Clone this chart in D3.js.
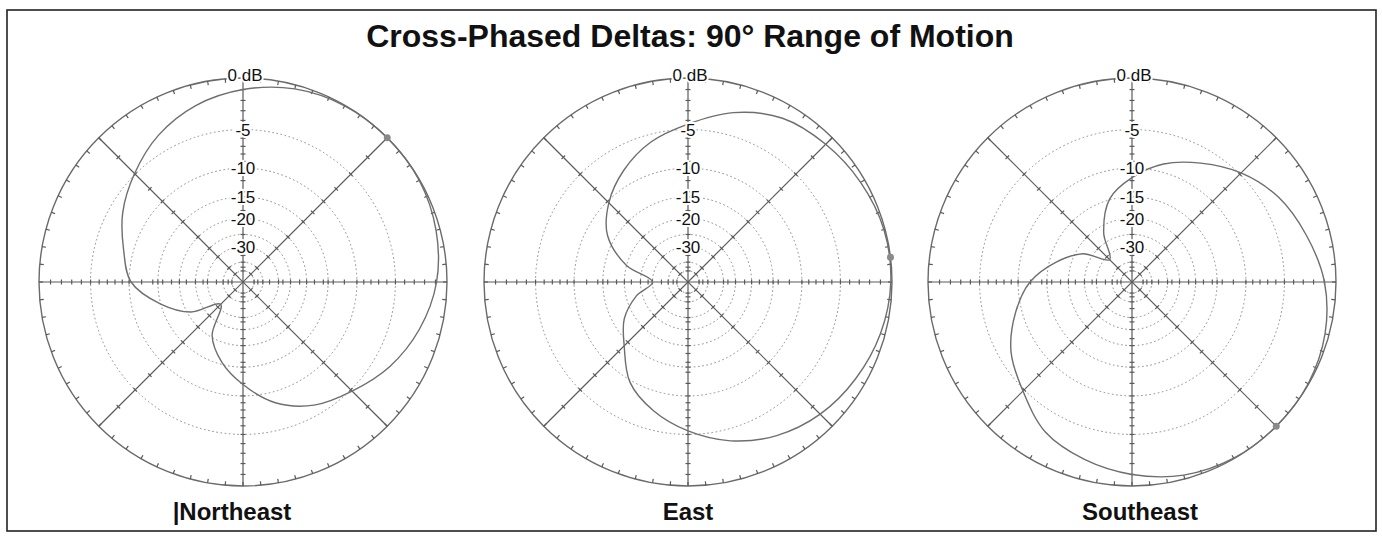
<!DOCTYPE html>
<html>
  <head>
    <meta charset="utf-8">
    <style>
    body {margin:0; background:white;}
    * { font-family: "Liberation Sans", Arial, Helvetica, sans-serif; }
    svg { background: white; display:block; }
    .ring { fill: none; stroke: #8a8a8a; stroke-width: 1; stroke-dasharray: 1.6 2.6; }
    .outer { fill: none; stroke: #6a6a6a; stroke-width: 1.4; }
    .spoke, .tick { stroke: #5a5a5a; stroke-width: 1.2; }
    .pattern { fill: none; stroke: #6e6e6e; stroke-width: 1.4; }
    </style>
  </head>
  <body>
    <div id="chart"></div>
    <script src="https://d3js.org/d3.v7.min.js"></script>
  </body>
</html>

<script>

  // data: compass azimuth in degrees, response in dB

  var azimuths = [0, 15, 30, 45, 60, 75, 90, 105, 120, 135, 150, 165,
                  180, 195, 210, 225, 240, 255, 270, 285, 300, 315, 330, 345];

  var northeastDb = [-1.0, -0.35, -0.05, 0, -0.05, -0.35, -0.9, -1.9, -3.2, -4.8, -6.2, -8.4,
                     -11.8, -15.5, -20.5, -32, -21, -15.0, -10.3, -8.6, -6.6, -4.9, -3.2, -1.9];

  var eastDb = [-4.4, -2.6, -1.3, -0.8, -0.4, -0.1, -0.1, -0.4, -0.9, -1.5, -2.4, -3.7,
                -5.4, -7.3, -9.7, -14, -17.5, -23, -30, -20, -13.5, -10.3, -7.9, -5.9];

  var southeastDb = [-11.5, -8.8, -6.8, -4.8, -3.2, -2.1, -1.0, -0.35, -0.05, 0, -0.05, -0.35,
                     -1.0, -1.8, -2.8, -4.8, -6.5, -9.0, -11.9, -16.5, -22, -32, -22, -14.8];

  var panelNames = ["|Northeast", "East", "Southeast"];
  var peakAz = [45, 83, 135];

  var ringDb = [0, -5, -10, -15, -20, -25, -30, -40, -50];
  var ringLabelDb = [0, -5, -10, -15, -20, -30];
  var ringLabels = ["0 dB", "-5", "-10", "-15", "-20", "-30"];
  // fine ticks on the vertical / horizontal axes, coarser ones on the diagonals
  var axisTickDb = [-1, -2, -3, -4, -5, -6, -7, -8, -9, -10, -12, -14, -15, -16, -18,
                    -20, -22, -25, -28, -30, -35, -40, -45, -50];
  var diagTickDb = [-2.5, -5, -7.5, -10, -12.5, -15, -20, -25, -30, -40, -50];

  var title = "Cross-Phased Deltas: 90\u00B0 Range of Motion";

  // properties

  var width = 1382, height = 536;
  var R = 204, cy = 282;
  var centers = [243, 688, 1132];
  var nameShift = [-11, 0, 8];

  var svg = d3.select("#chart")
    .append("svg")
    .attr("width", width)
    .attr("height", height);

  // ARRL log scale: radius follows power ratio ^ 0.253
  var rscale = d3.scalePow()
    .exponent(-5 * Math.log10(0.89))
    .domain([0, 1])
    .range([0, R]);

  function r(db) { return rscale(Math.pow(10, db / 10)); }
  function rad(az) { return az * Math.PI / 180; }
  function px(az, rr) { return rr * Math.sin(rad(az)); }
  function py(az, rr) { return -rr * Math.cos(rad(az)); }

  // frame
  svg.append("rect")
    .attr("x", 7).attr("y", 10)
    .attr("width", 1369).attr("height", 521)
    .attr("fill", "none")
    .attr("stroke", "#222")
    .attr("stroke-width", 1.6);

  svg.append("text")
    .attr("x", 690)
    .attr("y", 47)
    .attr("text-anchor", "middle")
    .style("font-size", "32px")
    .style("font-weight", "bold")
    .style("fill", "#111")
    .text(title);

  var patterns = [northeastDb, eastDb, southeastDb];

  var line = d3.lineRadial()
    .angle(function(d) { return rad(d.az); })
    .radius(function(d) { return r(d.db); })
    .curve(d3.curveCatmullRomClosed.alpha(0.5));

  patterns.forEach(function(dbs, i) {

    var g = svg.append("g")
      .attr("transform", "translate(" + centers[i] + "," + cy + ")");

    // dotted rings
    g.selectAll(".ring")
      .data(ringDb.filter(function(d) { return d < 0; }))
      .enter().append("circle")
      .attr("class", "ring")
      .attr("r", function(d) { return r(d); });

    g.append("circle")
      .attr("class", "outer")
      .attr("r", R);

    // spokes
    g.selectAll(".spoke")
      .data([0, 45, 90, 135])
      .enter().append("line")
      .attr("class", "spoke")
      .attr("x1", function(d) { return px(d, R); })
      .attr("y1", function(d) { return py(d, R); })
      .attr("x2", function(d) { return px(d + 180, R); })
      .attr("y2", function(d) { return py(d + 180, R); });

    // ticks on spokes
    var spokeTicks = [];
    [0, 90, 180, 270].forEach(function(a) {
      axisTickDb.forEach(function(db) { spokeTicks.push({az: a, db: db}); });
    });
    [45, 135, 225, 315].forEach(function(a) {
      diagTickDb.forEach(function(db) { spokeTicks.push({az: a, db: db}); });
    });
    g.selectAll(".stick")
      .data(spokeTicks)
      .enter().append("line")
      .attr("class", "tick")
      .attr("stroke-width", 0.9)
      .attr("x1", function(d) { return px(d.az, r(d.db)) + px(d.az + 90, 2.5); })
      .attr("y1", function(d) { return py(d.az, r(d.db)) + py(d.az + 90, 2.5); })
      .attr("x2", function(d) { return px(d.az, r(d.db)) - px(d.az + 90, 2.5); })
      .attr("y2", function(d) { return py(d.az, r(d.db)) - py(d.az + 90, 2.5); });

    // ticks on outer circle
    g.selectAll(".otick")
      .data(d3.range(0, 360, 5))
      .enter().append("line")
      .attr("class", "tick")
      .attr("stroke-width", 0.9)
      .attr("x1", function(d) { return px(d, R); })
      .attr("y1", function(d) { return py(d, R); })
      .attr("x2", function(d) { return px(d, R - 4); })
      .attr("y2", function(d) { return py(d, R - 4); });

    // pattern
    var pts = azimuths.map(function(a, k) { return {az: a, db: dbs[k]}; });
    g.append("path")
      .datum(pts)
      .attr("class", "pattern")
      .attr("d", line);

    g.append("circle")
      .attr("cx", px(peakAz[i], R))
      .attr("cy", py(peakAz[i], R))
      .attr("r", 3.5)
      .attr("fill", "#8a8a8a");

    // ring labels
    g.selectAll(".lbl")
      .data(ringLabelDb)
      .enter().append("text")
      .attr("class", "lbl")
      .attr("x", function(d, k) { return k === 0 ? 2 : 0; })
      .attr("y", function(d) { return -r(d); })
      .attr("dy", function(d, k) { return k === 0 ? "0.2em" : "0.36em"; })
      .attr("text-anchor", "middle")
      .style("font-size", "17px")
      .style("fill", "#111")
      .style("stroke", "white")
      .style("stroke-width", "4px")
      .style("paint-order", "stroke")
      .text(function(d, k) { return ringLabels[k]; });

    svg.append("text")
      .attr("x", centers[i] + nameShift[i])
      .attr("y", 520)
      .attr("text-anchor", "middle")
      .style("font-size", "24px")
      .style("font-weight", "bold")
      .style("fill", "#111")
      .text(panelNames[i]);
  });

</script>
